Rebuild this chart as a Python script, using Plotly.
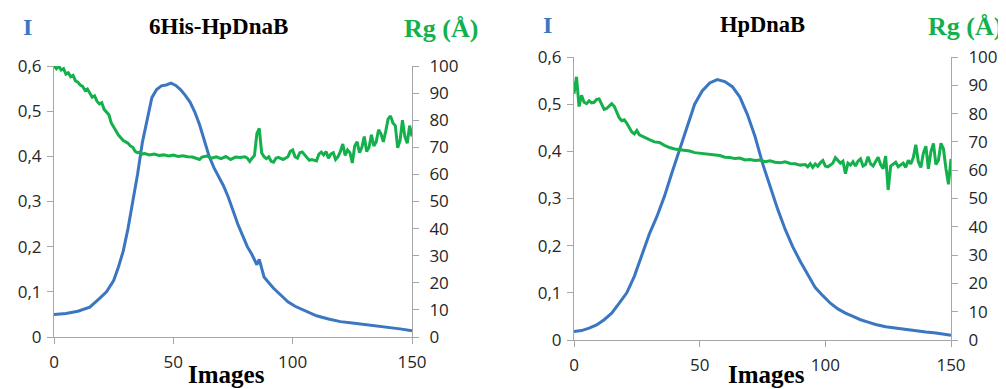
import plotly.graph_objects as go

# ---------------- data ----------------
# Left panel: 6His-HpDnaB
left_i_x = [0, 5, 10, 15, 19, 22, 25, 27, 29, 31, 33, 35, 37, 39, 41, 43, 45, 47, 49, 51, 53, 55, 57, 59,
            61, 63, 65, 67, 69, 71, 73, 75, 77, 79, 81, 83, 84, 85, 86, 87, 88, 90, 92, 95, 98, 101, 105,
            110, 115, 120, 125, 130, 135, 140, 145, 150]
left_i_y = [0.050, 0.052, 0.057, 0.066, 0.085, 0.100, 0.125, 0.155, 0.190, 0.240, 0.300, 0.360, 0.430,
            0.480, 0.530, 0.548, 0.556, 0.558, 0.562, 0.557, 0.548, 0.535, 0.520, 0.498, 0.470, 0.435,
            0.400, 0.375, 0.355, 0.335, 0.310, 0.280, 0.250, 0.225, 0.200, 0.182, 0.170, 0.160, 0.172,
            0.150, 0.133, 0.120, 0.108, 0.093, 0.078, 0.068, 0.058, 0.047, 0.040, 0.034, 0.031, 0.028,
            0.024, 0.021, 0.018, 0.014]

left_rg_x = [0, 1, 2, 3, 4, 5, 6, 7, 8, 9, 10, 11, 12, 13, 14, 15, 16, 17, 18, 19, 20, 21, 22, 23, 24,
             25, 26, 27, 28, 29, 30, 31, 32, 33, 34, 35, 36, 37, 38, 40, 42, 44, 46, 48, 50, 52, 54, 56,
             58, 60, 61, 62, 64, 66, 68, 70, 72, 74, 76, 78, 80, 81, 82, 83, 84, 85, 86, 87, 88, 89, 90,
             91, 92, 93, 94, 96, 98, 99, 100, 101, 102, 103, 104, 106, 107, 108, 110, 111, 112, 113, 114,
             115, 116, 117, 118, 119, 120, 121, 122, 123, 124, 125, 126, 127, 128, 129, 130, 131, 132,
             133, 134, 135, 136, 137, 138, 139, 140, 141, 142, 143, 144, 145, 146, 147, 148, 149, 150]
left_rg_y = [100, 99, 100, 98.5, 99, 97, 97.5, 96, 96.5, 94.5, 94, 93, 92.5, 91, 91.5, 90, 88.5, 89, 87,
             86, 86.5, 84, 83, 82, 79, 77.5, 75.5, 74.5, 73.5, 72.5, 72, 71.5, 70.5, 70, 68.5, 68, 68.2,
             67.5, 67.7, 67.2, 67.5, 67, 67.2, 66.8, 67.1, 66.6, 66.9, 66.5, 66.4, 65.8, 65.5, 66.4,
             66.8, 66, 66.5, 65.8, 66.6, 65.5, 66.4, 66.2, 66.5, 66, 64.8, 66, 67, 75, 77, 68, 66.5, 65.8,
             66.5, 64.8, 64.5, 66, 66.3, 65.5, 66.5, 68.5, 69, 66.5, 66, 68, 68.3, 66.2, 65.2, 65.5, 65,
             67.5, 68.2, 67.2, 68.4, 66, 67.5, 68, 65.5, 66.5, 68.5, 71.2, 67, 69, 68, 64.2, 70.5, 72, 68,
             70, 74, 68.4, 70, 74.6, 70.5, 72, 76.5, 75, 72, 76, 80.5, 81.6, 79, 78, 69.8, 72.5, 80, 74,
             71.5, 78, 74]

# Right panel: HpDnaB
right_i_x = [0, 3, 6, 9, 12, 15, 18, 21, 24, 27, 30, 33, 36, 39, 42, 45, 48, 51, 54, 57, 60, 63, 66, 69,
             72, 75, 78, 81, 84, 87, 90, 93, 96, 99, 102, 105, 108, 111, 114, 117, 120, 124, 128, 132,
             136, 140, 144, 148, 150]
right_i_y = [0.018, 0.020, 0.025, 0.032, 0.043, 0.057, 0.078, 0.100, 0.135, 0.178, 0.225, 0.262, 0.305,
             0.355, 0.405, 0.455, 0.500, 0.528, 0.545, 0.552, 0.548, 0.537, 0.515, 0.478, 0.432, 0.375,
             0.325, 0.278, 0.235, 0.198, 0.167, 0.138, 0.111, 0.094, 0.078, 0.066, 0.057, 0.050, 0.043,
             0.038, 0.033, 0.028, 0.025, 0.022, 0.019, 0.017, 0.015, 0.012, 0.010]

right_rg_x = [0, 1, 2, 3, 4, 5, 6, 7, 8, 9, 10, 11, 12, 13, 14, 15, 16, 17, 18, 19, 20, 21, 22, 23, 24,
              25, 26, 27, 28, 30, 32, 34, 36, 38, 40, 42, 44, 46, 48, 50, 52, 54, 56, 58, 60, 62, 64, 66,
              68, 70, 72, 74, 76, 78, 80, 82, 84, 86, 88, 90, 92, 93, 94, 95, 96, 97, 98, 99, 100, 101,
              102, 103, 104, 105, 106, 107, 108, 109, 110, 111, 112, 113, 114, 115, 116, 117, 118, 119,
              120, 121, 122, 123, 124, 125, 126, 127, 128, 129, 130, 131, 132, 133, 134, 135, 136, 137,
              138, 139, 140, 141, 142, 143, 144, 145, 146, 147, 148, 149, 150]
right_rg_y = [87, 93, 82.5, 86.5, 84, 83.5, 84.5, 83.8, 84, 85, 85.2, 83, 81.5, 81.8, 82.5, 83.5, 82.6,
              80.5, 78.5, 77.5, 77.8, 76.6, 75, 73.5, 72.8, 74, 72.5, 72, 71.5, 70.8, 70, 69.8, 68.8, 68,
              67.5, 67.3, 67, 66.8, 66.2, 66, 65.8, 65.6, 65.4, 65.2, 64.6, 64.5, 64.1, 64.3, 63.6, 63.8,
              63.4, 63.6, 63, 63.3, 62.8, 62.6, 63, 62.4, 62.3, 61.8, 62, 61.2, 62.3, 61, 62.2, 61.4, 62.6,
              63.4, 61.5, 61.2, 61.8, 62.5, 64.4, 63.5, 62.5, 63.2, 58.8, 62.5, 61.8, 63, 61.5, 63.2, 64,
              61.5, 62, 64.8, 62.2, 61.5, 63.2, 64.6, 62, 60.5, 65, 53, 61.5, 62, 62.8, 61.2, 61.8, 62.5,
              61, 63.5, 62.2, 64.5, 69, 63, 61, 66, 68.5, 60.5, 66.5, 69.5, 62, 63.5, 69.5, 67.5, 60.5,
              55, 64]

i_tickvals = [0, 0.1, 0.2, 0.3, 0.4, 0.5, 0.6]
i_ticktext = ["0", "0,1", "0,2", "0,3", "0,4", "0,5", "0,6"]
rg_tickvals = [0, 10, 20, 30, 40, 50, 60, 70, 80, 90, 100]
x_tickvals = [0, 50, 100, 150]

titles = ["6His-HpDnaB", "HpDnaB"]

# ---------------- style ----------------
OFF = 8                      # page body margin of the HTML document
W, H = 1006 - OFF, 389 - OFF
BLUE = "#3B76C0"
GREEN = "#14B04C"
AXIS = "#A6A6A6"
TXT = "#262626"
TICKFONT = dict(family="Open Sans", size=17, color=TXT)
SERIF = "Liberation Serif"

# plot areas in screen pixels: (x0, x1, ytop, ybottom)
areas = [(54, 412, 66, 337), (574, 951, 57, 340)]


def px2x(px):
    return (px - OFF) / W


def py2y(py):
    return (H - (py - OFF)) / H


def dom_x(a):
    return [px2x(a[0]), px2x(a[1])]


def dom_y(a):
    return [py2y(a[3]), py2y(a[2])]


fig = go.Figure()

fig.add_trace(go.Scatter(x=left_i_x, y=left_i_y, mode="lines", line=dict(color=BLUE, width=3),
                         xaxis="x", yaxis="y", showlegend=False))
fig.add_trace(go.Scatter(x=left_rg_x, y=left_rg_y, mode="lines", line=dict(color=GREEN, width=3),
                         xaxis="x", yaxis="y2", showlegend=False))
fig.add_trace(go.Scatter(x=right_i_x, y=right_i_y, mode="lines", line=dict(color=BLUE, width=3),
                         xaxis="x2", yaxis="y3", showlegend=False))
fig.add_trace(go.Scatter(x=right_rg_x, y=right_rg_y, mode="lines", line=dict(color=GREEN, width=3),
                         xaxis="x2", yaxis="y4", showlegend=False))

base = dict(ticks="outside", ticklen=6, tickcolor=AXIS, tickwidth=1, showline=True, linecolor=AXIS,
            linewidth=1, showgrid=False, zeroline=False, tickfont=TICKFONT, automargin=False)
xcommon = dict(range=[0, 150], tickvals=x_tickvals, ticklabelstandoff=4, **base)
ycommon = dict(range=[0, 0.6], tickvals=i_tickvals, ticktext=i_ticktext, ticklabelstandoff=2, **base)
rgcommon = dict(range=[0, 100], tickvals=rg_tickvals, side="right", ticklabelstandoff=7, **base)

fig.update_layout(
    template="none",
    width=W, height=H,
    margin=dict(l=0, r=0, t=0, b=0, pad=0),
    paper_bgcolor="white", plot_bgcolor="white",
    showlegend=False,
    xaxis=dict(domain=dom_x(areas[0]), anchor="y", **xcommon),
    yaxis=dict(domain=dom_y(areas[0]), anchor="x", **ycommon),
    yaxis2=dict(overlaying="y", anchor="x", **rgcommon),
    xaxis2=dict(domain=dom_x(areas[1]), anchor="y3", **xcommon),
    yaxis3=dict(domain=dom_y(areas[1]), anchor="x2", **ycommon),
    yaxis4=dict(overlaying="y3", anchor="x2", **rgcommon),
)

# text labels (screen pixel positions -> paper coords)
labels = [
    (titles[0], 218, 26, 23, "black"),
    ("I", 27, 27, 24, BLUE),
    ("Rg (Å)", 441, 28, 26, GREEN),
    ("Images", 226, 374, 25, "black"),
    (titles[1], 762, 25, 22.5, "black"),
    ("I", 547, 25, 24, BLUE),
    ("Rg (Å)", 965, 27, 26, GREEN),
    ("Images", 766, 374, 25, "black"),
]
for text, px, py, size, color in labels:
    fig.add_annotation(x=px2x(px), y=py2y(py), xref="paper", yref="paper", text=f"<b>{text}</b>",
                       showarrow=False, xanchor="center", yanchor="middle",
                       font=dict(family=SERIF, size=size, color=color))

fig.write_html("out.html")
